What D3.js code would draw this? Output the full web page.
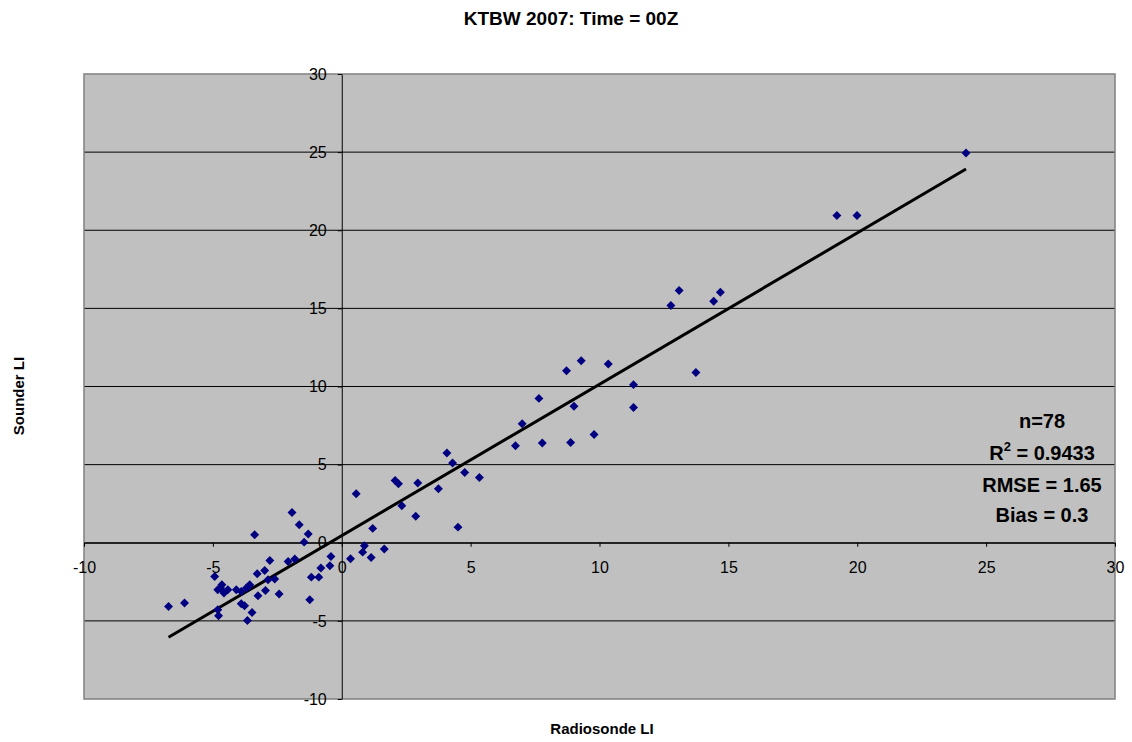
<!DOCTYPE html>
<html>
<head>
<meta charset="utf-8">
<script src="https://cdn.jsdelivr.net/npm/d3@7"></script>
<style>
  body { margin: 0; background: #fff; }
  text { font-family: "Liberation Sans", Arial, sans-serif; }
</style>
</head>
<body>
<div id="chart"></div>
<script>
// Radiosonde LI (x) against Sounder LI (y)
var radiosonde = [-6.72, -6.10, -4.93, -4.65, -4.81, -4.57, -4.42, -4.09, -3.90, -3.70,
  -3.57, -4.81, -4.78, -3.90, -3.77, -3.48, -3.66, -3.38, -3.28, -3.25,
  -2.99, -2.96, -2.79, -2.86, -2.60, -2.43, -2.08, -1.82, -1.93, -1.65,
  -1.30, -1.46, -1.18, -0.89, -1.24, -0.81, -0.46, -0.42, 0.34, 0.88,
  0.81, 1.14, 1.20, 1.65, 0.56, 2.33, 2.07, 2.20, 2.95, 2.87,
  3.75, 4.08, 4.30, 4.77, 5.34, 4.51, 6.74, 7.00, 7.78, 8.88,
  9.79, 7.65, 9.01, 8.72, 9.29, 10.34, 11.32, 11.32, 13.74, 12.77,
  13.09, 14.43, 14.69, 19.21, 19.99, 24.22, -4.70, -3.60]
var sounder = [-4.08, -3.86, -2.16, -2.69, -3.01, -3.22, -3.01, -3.01, -3.12, -2.90,
  -2.69, -4.29, -4.67, -3.91, -4.03, -4.46, -4.97, 0.51, -1.98, -3.39,
  -1.77, -3.05, -1.13, -2.37, -2.32, -3.28, -1.20, -1.04, 1.94, 1.15,
  0.56, 0.04, -2.20, -2.20, -3.65, -1.62, -1.47, -0.88, -1.02, -0.19,
  -0.60, -0.94, 0.92, -0.40, 3.14, 2.37, 3.99, 3.78, 3.82, 1.69,
  3.46, 5.74, 5.10, 4.50, 4.18, 1.00, 6.21, 7.62, 6.38, 6.42,
  6.93, 9.24, 8.73, 11.01, 11.65, 11.44, 10.12, 8.66, 10.90, 15.19,
  16.15, 15.45, 16.03, 20.95, 20.95, 24.95, -2.90, -2.80]
var ticks = [-10, -5, 0, 5, 10, 15, 20, 25, 30]
var stats = ["n=78", "R2 = 0.9433", "RMSE = 1.65", "Bias = 0.3"]

var width = 1132
var height = 742
var plotL = 84, plotR = 1115, plotT = 74, plotB = 699

var svg = d3.select("#chart")
  .append("svg")
  .attr("width", width)
  .attr("height", height)

var x = d3.scaleLinear().domain([-10, 30]).range([plotL, plotR])
var y = d3.scaleLinear().domain([-10, 30]).range([plotB, plotT])

// plot area
svg.append("rect")
  .attr("x", plotL).attr("y", plotT)
  .attr("width", plotR - plotL).attr("height", plotB - plotT)
  .attr("fill", "#c0c0c0")

// horizontal gridlines
svg.selectAll(".grid")
  .data(ticks.slice(1, -1))
  .enter()
  .append("line")
  .attr("x1", plotL).attr("x2", plotR)
  .attr("y1", function(d) { return y(d) })
  .attr("y2", function(d) { return y(d) })
  .attr("stroke", "#000")
  .attr("stroke-width", 1)

svg.append("rect")
  .attr("x", plotL).attr("y", plotT)
  .attr("width", plotR - plotL).attr("height", plotB - plotT)
  .attr("fill", "none")
  .attr("stroke", "#808080")
  .attr("stroke-width", 1.5)

// axes cross at zero
var fmt = function(d) { return String(d) }
svg.append("g")
  .attr("transform", "translate(0," + y(0) + ")")
  .call(d3.axisBottom(x).tickValues(ticks).tickFormat(fmt).tickSize(4).tickSizeOuter(0).tickPadding(15))
svg.append("g")
  .attr("transform", "translate(" + x(0) + ",0)")
  .call(d3.axisLeft(y).tickValues(ticks).tickFormat(fmt).tickSize(4).tickSizeOuter(0).tickPadding(11))

svg.selectAll(".tick text")
  .style("font-size", "16px")
  .attr("fill", "#000")
  .style("font-family", "'Liberation Sans', Arial, sans-serif")
svg.selectAll(".domain, .tick line").attr("stroke", "#000")

// least-squares trend line across the data range
var mx = d3.mean(radiosonde), my = d3.mean(sounder)
var sxy = d3.sum(radiosonde, function(v, i) { return (v - mx) * (sounder[i] - my) })
var sxx = d3.sum(radiosonde, function(v) { return (v - mx) * (v - mx) })
var slope = sxy / sxx
var icpt = my - slope * mx
var xr = d3.extent(radiosonde)

svg.append("line")
  .attr("x1", x(xr[0])).attr("y1", y(icpt + slope * xr[0]))
  .attr("x2", x(xr[1])).attr("y2", y(icpt + slope * xr[1]))
  .attr("stroke", "#000")
  .attr("stroke-width", 3)

// points
var diamond = d3.symbol().type(d3.symbolSquare).size(40)
svg.selectAll(".pt")
  .data(radiosonde)
  .enter()
  .append("path")
  .attr("d", diamond)
  .attr("transform", function(d, i) {
    return "translate(" + x(d) + "," + y(sounder[i]) + ") rotate(45)"
  })
  .attr("fill", "#000080")

// title and axis titles
svg.append("text")
  .attr("x", 571).attr("y", 25)
  .attr("text-anchor", "middle")
  .style("font-size", "19px")
  .style("font-weight", "bold")
  .text("KTBW 2007: Time = 00Z")

svg.append("text")
  .attr("x", 602).attr("y", 734)
  .attr("text-anchor", "middle")
  .style("font-size", "15px")
  .style("font-weight", "bold")
  .text("Radiosonde LI")

svg.append("text")
  .attr("transform", "translate(24,396) rotate(-90)")
  .attr("text-anchor", "middle")
  .style("font-size", "15px")
  .style("font-weight", "bold")
  .text("Sounder LI")

// statistics box text
var statY = [428, 460, 492, 522]
stats.forEach(function(s, i) {
  var t = svg.append("text")
    .attr("x", 1042).attr("y", statY[i])
    .attr("text-anchor", "middle")
    .style("font-size", "20px")
    .style("font-weight", "bold")
  if (s.indexOf("R2") === 0) {
    t.append("tspan").text("R")
    t.append("tspan").attr("dy", -9).style("font-size", "13px").text("2")
    t.append("tspan").attr("dy", 9).text(s.slice(2))
  } else {
    t.text(s)
  }
})
</script>
</body>
</html>
